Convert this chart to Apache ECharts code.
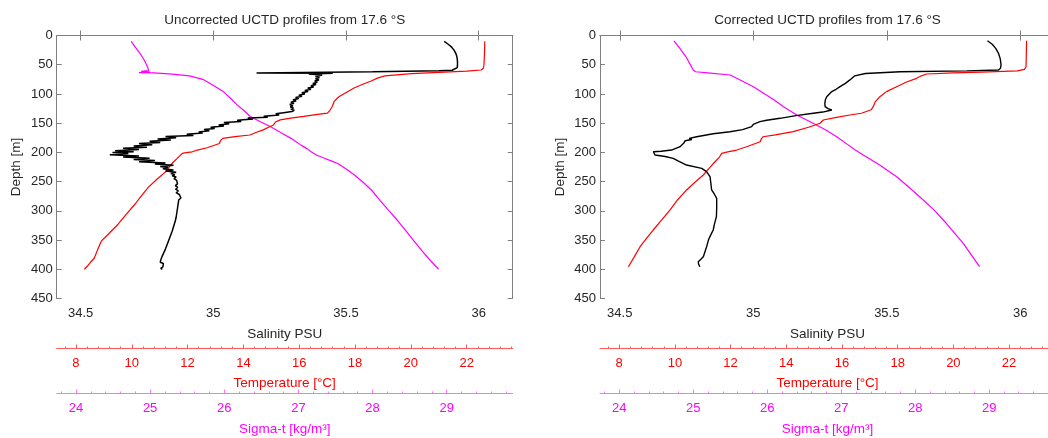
<!DOCTYPE html>
<html>
<head>
<meta charset="utf-8">
<script src="https://cdn.jsdelivr.net/npm/echarts@6/dist/echarts.min.js"></script>
<style>html,body{margin:0;padding:0;background:#fff}#c{width:1048px;height:438px}</style>
</head>
<body>
<div id="c"></div>
<script>
// ---------------- DATA ----------------
const panelTitles = ['Uncorrected UCTD profiles from 17.6 °S', 'Corrected UCTD profiles from 17.6 °S'];
const salinityTicks = [34.5, 35, 35.5, 36];
const tempTicks = [8, 10, 12, 14, 16, 18, 20, 22];
const sigmaTicks = [24, 25, 26, 27, 28, 29];
const depthTicks = [0, 50, 100, 150, 200, 250, 300, 350, 400, 450];

// [salinity, depth]
const uncSalinity = [
[35.870,10],[35.885,15],[35.898,20],[35.907,25],[35.913,30],[35.917,35],[35.919,40],[35.920,45],[35.920,50],[35.919,55],[35.915,58],[35.900,59.5],
[35.850,60.5],[35.600,62],[35.163,64],[35.450,64.8],[35.360,66],[35.410,67.5],
[35.385,70],[35.400,72],[35.385,74],[35.398,76],[35.382,78],[35.392,80],[35.375,82],[35.387,84],[35.368,86],[35.378,88],[35.356,90],[35.368,92],[35.345,94],[35.357,96],[35.333,98],[35.345,100],
[35.322,102],[35.334,104],[35.310,106],[35.322,108],[35.300,110],[35.312,112],[35.292,114],[35.304,116],[35.288,118],[35.300,120],[35.290,122],[35.302,124],[35.292,126],[35.305,128],[35.296,130],
[35.265,132],[35.235,134],[35.248,136],[35.190,138],[35.205,140],[35.130,141],[35.150,143],[35.090,145],[35.105,147],[35.040,149],[35.060,151],[35.020,153],[35.040,155],[34.990,157],[35.005,159],
[34.965,161],[34.985,163],[34.945,165],[34.960,167],[34.900,169],[34.925,171],[34.820,173],[34.860,175],[34.790,177],[34.840,179],[34.760,181],[34.800,183],[34.720,185],[34.770,187],[34.700,189],
[34.750,191],[34.660,193],[34.720,195],[34.630,197],[34.700,199],[34.620,200],[34.680,202],[34.610,204],[34.720,206],[34.660,208],[34.760,210],[34.700,212],[34.780,214],[34.720,216],[34.820,218],
[34.780,220],[34.850,222],[34.800,224],[34.830,226],[34.810,228],[34.850,230],[34.820,232],[34.860,234],[34.840,236],[34.855,238],[34.845,240],
[34.860,242],[34.852,245],[34.862,248],[34.855,251],[34.865,254],[34.857,257],[34.866,260],[34.858,263],[34.868,266],[34.860,269],[34.872,272],[34.865,275],[34.878,278],[34.870,281],[34.876,284],
[34.868,287],[34.874,290],[34.866,293],[34.872,296],[34.864,299],[34.870,302],[34.862,305],[34.868,308],[34.860,311],[34.866,314],[34.857,317],[34.862,320],[34.853,323],[34.858,326],[34.849,329],
[34.854,332],[34.845,335],[34.850,338],[34.840,341],[34.845,344],[34.835,347],[34.840,350],[34.830,353],[34.835,356],[34.825,359],[34.830,362],[34.820,365],[34.824,368],[34.814,371],[34.818,374],
[34.808,377],[34.812,380],[34.803,383],[34.808,386],[34.800,388],[34.812,390],[34.805,393],[34.810,396],[34.802,398],[34.808,400]
];
// [temperature, depth]
const uncTemperature = [
[22.65,10],[22.64,30],[22.62,50],[22.60,56],[22.52,59],[22.0,61],[21.0,63],[20.03,65.2],[19.07,69.2],[18.8,73],[18.58,77.9],[18.3,83],[17.98,89.4],[17.7,97],[17.45,104],[17.37,107],[17.25,113],
[17.19,121],[17.1,128],[17.01,132.7],[16.6,135.5],[16.16,138.5],[15.7,141.5],[15.32,144.3],[15.15,148],[15.08,153],[14.9,157],[14.71,161.5],[14.45,166],[14.23,170.2],[13.7,173],[13.26,176],
[13.18,180],[13.14,184.7],[12.7,192],[12.35,196],[12.17,199],[11.95,200.5],[11.81,201.7],[11.72,206],[11.63,210.3],[11.5,216],[11.39,222],[11.3,228],[11.21,233.4],[10.9,246],[10.6,259.4],
[10.35,274],[10.12,288.3],[9.8,306],[9.51,322.9],[9.2,338],[8.91,351.8],[8.78,366],[8.66,380.7],[8.52,388],[8.42,394],[8.30,400]
];
// [sigma-t, depth]
const uncSigma = [
[24.744,10],[24.80,20],[24.86,30],[24.92,42],[24.97,55],[24.98,60],[24.88,61.5],[25.0,62.5],[24.85,63.5],[25.05,64],[25.3,66],[25.53,69.2],[25.71,75],[25.85,85],[25.98,95.2],[26.08,107],
[26.17,118.3],[26.26,128],[26.35,138.5],[26.48,147],[26.62,155.8],[26.76,166],[26.9,176],[26.95,180],[27.04,188],[27.12,194],[27.17,199],[27.25,205],[27.35,210],[27.45,215],[27.53,219],
[27.65,229],[27.76,239.2],[27.88,252],[27.99,265.2],[28.1,282],[28.22,299.8],[28.34,317],[28.45,334.5],[28.56,352],[28.67,369],[28.78,385],[28.89,400]
];
const corSalinity = [
[35.877,9],[35.895,15],[35.908,22],[35.918,30],[35.925,40],[35.928,50],[35.926,56],[35.918,59],[35.80,60.5],[35.55,62],[35.42,65],[35.38,69],[35.375,71.5],[35.362,76],[35.345,82],[35.325,87.5],
[35.31,92],[35.294,96],[35.285,100],[35.275,104.7],[35.27,110],[35.268,116],[35.269,121.8],[35.28,125],[35.294,127.5],[35.26,131],[35.225,133],[35.16,137],[35.1,141.7],[35.05,145],[35.025,147.4],
[35.0,152],[34.994,156],[34.96,161],[34.913,164.6],[34.85,168],[34.788,173.2],[34.76,176],[34.77,178],[34.745,180],[34.74,184],[34.726,190.2],[34.694,196],[34.655,198],[34.626,199],[34.628,202],
[34.632,204.5],[34.67,207],[34.7,210.2],[34.72,215],[34.75,221.6],[34.807,227.3],[34.825,233],[34.838,241.6],[34.841,252],[34.844,264.3],[34.855,272],[34.863,278.6],[34.863,295],[34.862,310],
[34.855,322],[34.85,332.8],[34.84,342],[34.832,350],[34.825,362],[34.813,378.5],[34.794,387],[34.795,391],[34.8,395.6]
];
const corTemperature = [
[22.63,9],[22.62,30],[22.61,53.4],[22.55,58],[22.3,60.5],[21.0,62.5],[20.0,64],[19.04,65.9],[18.85,69],[18.68,73.3],[18.3,80],[17.96,87.6],[17.6,96],[17.36,104.7],[17.2,113],[17.12,121.8],
[17.05,127],[17.0,130.4],[16.7,133],[16.29,136],[15.8,140],[15.33,144.6],[15.21,150.2],[14.8,157],[14.25,164.6],[13.6,170],[13.17,173.2],[13.1,177],[13.06,181.7],[12.6,190],[12.22,196],[11.9,199],
[11.68,201.6],[11.6,208],[11.44,216],[11.25,226],[11.02,238.7],[10.72,251],[10.42,264.3],[10.1,281],[9.82,298.6],[9.52,316],[9.22,332.8],[8.98,347],[8.75,361.4],[8.55,378],[8.33,395.6]
];
const corSigma = [
[24.74,9],[24.82,22],[24.9,36],[24.97,52],[25.0,59],[25.03,62],[25.2,64],[25.5,67.6],[25.68,79],[25.82,88],[25.95,98.9],[26.09,110],[26.22,121.8],[26.4,136],[26.62,150.2],[26.78,161],[26.94,173.2],
[27.07,185],[27.19,196],[27.36,209],[27.52,221.6],[27.75,241.6],[27.9,258],[28.06,275.8],[28.25,298],[28.42,321.3],[28.65,355.6],[28.87,395.6]
];

// ---------------- CHART ----------------
function steps(a, b, s) { const r = []; for (let v = a; v <= b + 1e-9; v += s) r.push(Math.round(v * 100) / 100); return r; }
const tempMinor = steps(7.6, 23.6, 0.4);
const sigmaMinor = steps(23.8, 29.8, 0.2);

const FONT = 'Liberation Sans';
const DARK = '#262626';
const FRAME = '#808080';
const RED = '#ff0000';
const MAG = '#ff00ff';
const TICK_IN = -1; // ticks drawn towards the plot

const panels = [
  { left: 56.7, width: 456, salMin: 34.41, salMax: 36.128, data: [uncSalinity, uncTemperature, uncSigma] },
  { left: 600, width: 455, salMin: 34.426, salMax: 36.13, data: [corSalinity, corTemperature, corSigma] }
];
const TEMP = [7.31, 23.65];
const SIG = [23.74, 29.89];

const grids = [], xAxes = [], yAxes = [], series = [], titles = [];
panels.forEach((p, g) => {
  grids.push({ left: p.left, top: 35.5, width: p.width, height: 263, containLabel: false, outerBoundsMode: 'none' });
  titles.push({ text: panelTitles[g], left: p.left + p.width / 2, top: 13, textAlign: 'center', padding: 0,
    textStyle: { fontFamily: FONT, fontSize: 13.5, fontWeight: 'normal', color: DARK } });
  const frameLine = { show: true, lineStyle: { color: FRAME, width: 1 } };
  // salinity bottom
  xAxes.push({ gridIndex: g, type: 'value', position: 'bottom', min: p.salMin, max: p.salMax,
    axisLine: frameLine, splitLine: { show: false },
    axisTick: { show: true, inside: false, length: 5 * TICK_IN, customValues: salinityTicks, lineStyle: { color: FRAME } },
    axisLabel: { customValues: salinityTicks, margin: 8, color: DARK, fontFamily: FONT, fontSize: 13 },
    name: 'Salinity PSU', nameLocation: 'middle', nameGap: 29, nameTextStyle: { color: DARK, fontFamily: FONT, fontSize: 13.5 } });
  // salinity top (frame)
  xAxes.push({ gridIndex: g, type: 'value', position: 'top', min: p.salMin, max: p.salMax,
    axisLine: frameLine, splitLine: { show: false },
    axisTick: { show: true, inside: false, length: 5 * TICK_IN, customValues: salinityTicks, lineStyle: { color: FRAME } },
    axisLabel: { show: false } });
  // temperature major
  xAxes.push({ gridIndex: g, type: 'value', position: 'bottom', offset: 50, min: TEMP[0], max: TEMP[1],
    axisLine: { show: true, lineStyle: { color: '#ff5a5a', width: 1 } }, splitLine: { show: false },
    axisTick: { show: true, inside: false, length: 4 * TICK_IN, customValues: tempTicks, lineStyle: { color: '#ff5a5a' } },
    axisLabel: { customValues: tempTicks, margin: 8, color: RED, fontFamily: FONT, fontSize: 13 },
    name: 'Temperature [°C]', nameLocation: 'middle', nameGap: 28, nameTextStyle: { color: RED, fontFamily: FONT, fontSize: 13.5 } });
  // temperature minor
  xAxes.push({ gridIndex: g, type: 'value', position: 'bottom', offset: 50, min: TEMP[0], max: TEMP[1],
    axisLine: { show: false }, splitLine: { show: false },
    axisTick: { show: true, inside: false, length: 2 * TICK_IN, customValues: tempMinor, lineStyle: { color: '#ff5a5a' } },
    axisLabel: { show: false } });
  // sigma-t major
  xAxes.push({ gridIndex: g, type: 'value', position: 'bottom', offset: 95, min: SIG[0], max: SIG[1],
    axisLine: { show: true, lineStyle: { color: '#ff70ff', width: 1 } }, splitLine: { show: false },
    axisTick: { show: true, inside: false, length: 4 * TICK_IN, customValues: sigmaTicks, lineStyle: { color: '#ff70ff' } },
    axisLabel: { customValues: sigmaTicks, margin: 8, color: MAG, fontFamily: FONT, fontSize: 13 },
    name: 'Sigma-t [kg/m³]', nameLocation: 'middle', nameGap: 29, nameTextStyle: { color: MAG, fontFamily: FONT, fontSize: 13.5 } });
  // sigma-t minor
  xAxes.push({ gridIndex: g, type: 'value', position: 'bottom', offset: 95, min: SIG[0], max: SIG[1],
    axisLine: { show: false }, splitLine: { show: false },
    axisTick: { show: true, inside: false, length: 2 * TICK_IN, customValues: sigmaMinor, lineStyle: { color: '#ff70ff' } },
    axisLabel: { show: false } });

  yAxes.push({ gridIndex: g, type: 'value', position: 'left', inverse: true, min: 0, max: 450,
    axisLine: frameLine, splitLine: { show: false },
    axisTick: { show: true, inside: false, length: 5 * TICK_IN, customValues: depthTicks, lineStyle: { color: FRAME } },
    axisLabel: { customValues: depthTicks, margin: 4, color: DARK, fontFamily: FONT, fontSize: 13 },
    name: 'Depth [m]', nameLocation: 'middle', nameGap: 33, nameRotate: 90,
    nameTextStyle: { color: DARK, fontFamily: FONT, fontSize: 13.5 } });
  yAxes.push({ gridIndex: g, type: 'value', position: 'right', inverse: true, min: 0, max: 450,
    axisLine: frameLine, splitLine: { show: false },
    axisTick: { show: true, inside: false, length: 5 * TICK_IN, customValues: depthTicks, lineStyle: { color: FRAME } },
    axisLabel: { show: false } });

  const base = g * 6;
  const cols = ['#000000', RED, MAG];
  const xi = [base, base + 2, base + 4];
  const widths = [g === 0 ? 1.5 : 1.4, 1.2, 1.2];
  p.data.forEach((d, k) => {
    series.push({ type: 'line', xAxisIndex: xi[k], yAxisIndex: g * 2, data: d, showSymbol: false, symbol: 'none',
      lineStyle: { color: cols[k], width: widths[k] }, z: 3 - k, animation: false, silent: true });
  });
});

const chart = echarts.init(document.getElementById('c'), null, { renderer: 'canvas' });
chart.setOption({
  animation: false,
  backgroundColor: '#ffffff',
  title: titles,
  grid: grids,
  xAxis: xAxes,
  yAxis: yAxes,
  series: series
});
</script>
</body>
</html>
